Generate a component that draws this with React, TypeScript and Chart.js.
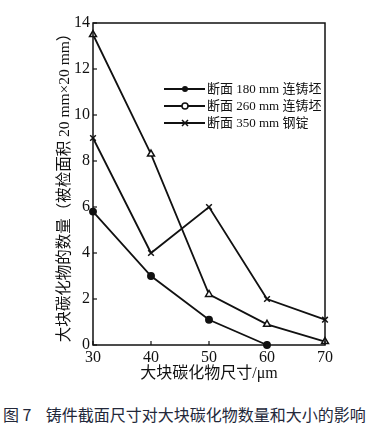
import React, { useEffect, useRef } from "react";
import { Chart, registerables } from "chart.js";

Chart.register(...registerables);

const sizes = [30, 40, 50, 60, 70];
const s180 = [5.8, 3.0, 1.1, 0, null];
const s260 = [13.5, 8.3, 2.2, 0.9, 0.15];
const s350 = [9.0, 4.0, 6.0, 2.0, 1.1];
const seriesNames = ["断面 180 mm 连铸坯", "断面 260 mm 连铸坯", "断面 350 mm 钢锭"];
const xTitle = "大块碳化物尺寸/μm";
const yTitle = "大块碳化物的数量（被检面积 20 mm×20 mm）";
const caption = "图 7    铸件截面尺寸对大块碳化物数量和大小的影响";

const FONT = "'Liberation Serif', 'Noto Sans CJK SC', serif";

const toPoints = (vals: (number | null)[]) =>
  sizes.map((x, i) => ({ x, y: vals[i] })).filter((p) => p.y !== null);

const framePlugin = {
  id: "frameTicks",
  afterDraw(chart: any) {
    const { ctx, chartArea } = chart;
    const { left, right, top, bottom } = chartArea;
    ctx.save();
    ctx.strokeStyle = "#111";
    ctx.lineWidth = 1.5;
    ctx.strokeRect(left, top, right - left, bottom - top);
    ctx.lineWidth = 1.2;
    const xs = chart.scales.x;
    const ys = chart.scales.y;
    xs.ticks.forEach((t: any) => {
      const px = xs.getPixelForValue(t.value);
      ctx.beginPath();
      ctx.moveTo(px, bottom);
      ctx.lineTo(px, bottom - 4);
      ctx.stroke();
    });
    ys.ticks.forEach((t: any) => {
      const py = ys.getPixelForValue(t.value);
      ctx.beginPath();
      ctx.moveTo(left, py);
      ctx.lineTo(left + 4, py);
      ctx.stroke();
    });
    // legend
    const rows = [89, 106, 123];
    ctx.font = "13px " + FONT;
    ctx.textBaseline = "middle";
    ctx.fillStyle = "#111";
    chart.data.datasets.forEach((ds: any, i: number) => {
      const y = rows[i];
      ctx.strokeStyle = "#111";
      ctx.lineWidth = 2.2;
      ctx.beginPath();
      ctx.moveTo(164, y);
      ctx.lineTo(205, y);
      ctx.stroke();
      const cx = 185;
      ctx.lineWidth = 1.5;
      if (i === 0) {
        ctx.beginPath();
        ctx.arc(cx, y, 3, 0, Math.PI * 2);
        ctx.fillStyle = "#111";
        ctx.fill();
      } else if (i === 1) {
        ctx.beginPath();
        ctx.arc(cx, y, 3, 0, Math.PI * 2);
        ctx.fillStyle = "#fff";
        ctx.fill();
        ctx.stroke();
      } else {
        ctx.beginPath();
        ctx.moveTo(cx - 3, y - 3);
        ctx.lineTo(cx + 3, y + 3);
        ctx.moveTo(cx - 3, y + 3);
        ctx.lineTo(cx + 3, y - 3);
        ctx.stroke();
      }
      ctx.fillStyle = "#111";
      ctx.fillText(ds.label, 207, y + 1);
    });
    ctx.restore();
  },
};

export default function App() {
  const ref = useRef<HTMLCanvasElement | null>(null);
  useEffect(() => {
    if (!ref.current) return;
    const common = { borderColor: "#111", borderWidth: 1.8, pointBorderColor: "#111", pointBorderWidth: 1.5, clip: false as any };
    const chart = new Chart(ref.current, {
      type: "line",
      data: {
        datasets: [
          { ...common, label: seriesNames[0], data: toPoints(s180) as any, pointStyle: "circle", pointRadius: 3.2, pointBackgroundColor: "#111" },
          { ...common, label: seriesNames[1], data: toPoints(s260) as any, pointStyle: "triangle", pointRadius: 4, pointBackgroundColor: "#fff" },
          { ...common, label: seriesNames[2], data: toPoints(s350) as any, pointStyle: "crossRot", pointRadius: 4, pointBackgroundColor: "#111" },
        ],
      },
      options: {
        animation: false,
        responsive: false,
        devicePixelRatio: 1,
        layout: { padding: { left: 0, right: 49, top: 23, bottom: 0 } },
        plugins: { legend: { display: false }, tooltip: { enabled: false } },
        scales: {
          x: {
            type: "linear",
            min: 30,
            max: 70,
            ticks: { stepSize: 10, color: "#111", font: { family: FONT, size: 16 }, padding: 3 },
            grid: { display: false, drawTicks: false },
            border: { display: false },
            title: { display: true, text: xTitle, color: "#111", font: { family: FONT, size: 16 }, padding: { top: 0, bottom: 9 } },
            afterFit: (s: any) => { s.height = 47; },
          },
          y: {
            type: "linear",
            min: 0,
            max: 14,
            ticks: { stepSize: 2, color: "#111", font: { family: FONT, size: 16 }, padding: 3 },
            grid: { display: false, drawTicks: false },
            border: { display: false },
            title: { display: true, text: yTitle, color: "#111", font: { family: FONT, size: 15.5 }, padding: { top: 56, bottom: 0 } },
            afterFit: (s: any) => { s.width = 93; },
          },
        },
      },
      plugins: [framePlugin],
    });
    return () => chart.destroy();
  }, []);
  return (
    <div style={{ position: "absolute", left: 0, top: 0, width: 374, height: 437, background: "#fff" }}>
      <canvas ref={ref} width={374} height={392} style={{ display: "block" }} />
      <div
        style={{
          position: "absolute",
          left: 3,
          top: 404,
          fontFamily: "'Noto Sans CJK SC', sans-serif",
          fontSize: 16,
          color: "#23283a",
          whiteSpace: "pre",
          lineHeight: "20px",
        }}
      >
        {caption}
      </div>
    </div>
  );
}
